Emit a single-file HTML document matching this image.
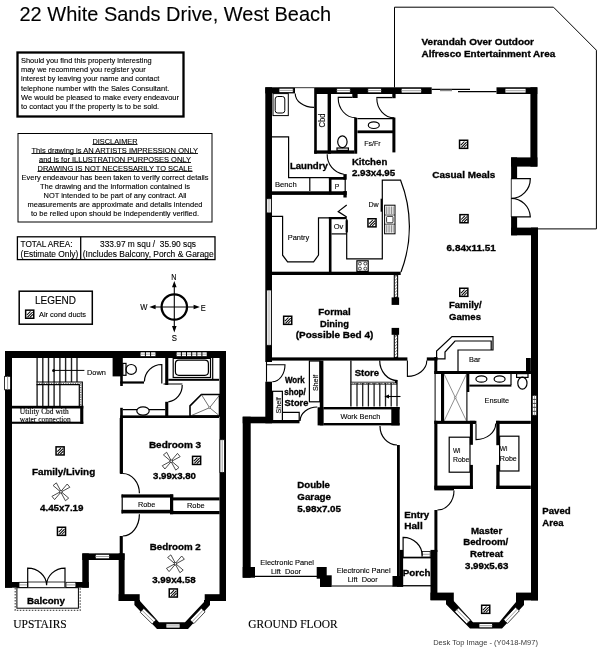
<!DOCTYPE html>
<html><head><meta charset="utf-8"><title>22 White Sands Drive, West Beach</title>
<style>
html,body{margin:0;padding:0;background:#fff}
svg{display:block;will-change:transform}
text{font-family:"Liberation Sans",Arial,sans-serif;fill:#000;stroke:#000;stroke-width:0.12px}
.b{font-weight:bold;stroke:#000;stroke-width:0.32px}
.sf{font-family:"Liberation Serif","Times New Roman",serif}
.w{fill:#000}
.l{fill:none}
.l2{fill:none}
.wn{fill:#fff}
.wh{fill:#fff}
</style></head><body>
<svg width="600" height="649" viewBox="0 0 600 649">
<defs>
<g id="duct"><rect x="0.75" y="0.75" width="8.1" height="8.1" fill="#fff" stroke="#000" stroke-width="1.5"/><path d="M2 5.6L5.6 2M2.6 7.8L7.8 2.6M5 8L8 5" stroke="#000" stroke-width="1.05" fill="none"/></g>
<g id="fan"><g fill="#fff" stroke="#222" stroke-width="0.75"><g transform="rotate(51)"><path d="M1.3 -0.5L9.8 -2.1V2.1L1.3 0.5Z"/></g><g transform="rotate(141)"><path d="M1.3 -0.5L9.8 -2.1V2.1L1.3 0.5Z"/></g><g transform="rotate(231)"><path d="M1.3 -0.5L9.8 -2.1V2.1L1.3 0.5Z"/></g><g transform="rotate(321)"><path d="M1.3 -0.5L9.8 -2.1V2.1L1.3 0.5Z"/></g></g><rect x="-1.1" y="-1.1" width="2.2" height="2.2" fill="#fff" stroke="#222" stroke-width="0.7"/></g>
</defs>
<rect width="600" height="649" fill="#fff"/>

<text x="19.5" y="20.7" font-size="20.5" textLength="311.7" lengthAdjust="spacingAndGlyphs" xml:space="preserve">22 White Sands Drive, West Beach</text>
<rect class="l2" x="17.5" y="52.5" width="166.0" height="64.0" stroke-width="2.3" stroke="#000"/>
<text x="21.0" y="63.3" font-size="8" textLength="130.7" lengthAdjust="spacingAndGlyphs" xml:space="preserve">Should you find this property interesting</text>
<text x="21.0" y="72.4" font-size="8" textLength="124.7" lengthAdjust="spacingAndGlyphs" xml:space="preserve">may we recommend you register your</text>
<text x="21.0" y="81.4" font-size="8" textLength="138.3" lengthAdjust="spacingAndGlyphs" xml:space="preserve">interest by leaving your name and contact</text>
<text x="21.0" y="90.5" font-size="8" textLength="148.3" lengthAdjust="spacingAndGlyphs" xml:space="preserve">telephone number with the Sales Consultant.</text>
<text x="21.0" y="99.6" font-size="8" textLength="158.0" lengthAdjust="spacingAndGlyphs" xml:space="preserve">We would be pleased to make every endeavour</text>
<text x="21.0" y="108.7" font-size="8" textLength="138.2" lengthAdjust="spacingAndGlyphs" xml:space="preserve">to contact you if the property is to be sold.</text>
<rect class="l" x="18.0" y="133.5" width="194.0" height="88.5" stroke="#000" stroke-width="1"/>
<text x="92.5" y="143.8" font-size="8" textLength="45.0" lengthAdjust="spacingAndGlyphs" xml:space="preserve">DISCLAIMER</text>
<path class="l" stroke="#000" stroke-width="0.9" d="M92.5 144.5H137.5"/>
<text x="31.5" y="152.8" font-size="8" textLength="166.5" lengthAdjust="spacingAndGlyphs" xml:space="preserve">This drawing is AN ARTISTS IMPRESSION ONLY</text>
<path class="l" stroke="#000" stroke-width="0.9" d="M31.5 153.5H198.0"/>
<text x="39.0" y="161.8" font-size="8" textLength="152.0" lengthAdjust="spacingAndGlyphs" xml:space="preserve">and is for ILLUSTRATION PURPOSES ONLY</text>
<path class="l" stroke="#000" stroke-width="0.9" d="M39.0 162.5H191.0"/>
<text x="37.5" y="170.8" font-size="8" textLength="155.0" lengthAdjust="spacingAndGlyphs" xml:space="preserve">DRAWING IS NOT NECESSARILY TO SCALE</text>
<path class="l" stroke="#000" stroke-width="0.9" d="M37.5 171.5H192.5"/>
<text x="21.5" y="179.8" font-size="8" textLength="187.0" lengthAdjust="spacingAndGlyphs" xml:space="preserve">Every endeavour has been taken to verify correct details</text>
<text x="40.0" y="188.8" font-size="8" textLength="150.0" lengthAdjust="spacingAndGlyphs" xml:space="preserve">The drawing and the information contained is</text>
<text x="43.5" y="197.8" font-size="8" textLength="143.0" lengthAdjust="spacingAndGlyphs" xml:space="preserve">NOT intended to be part of any contract. All</text>
<text x="27.5" y="206.8" font-size="8" textLength="175.0" lengthAdjust="spacingAndGlyphs" xml:space="preserve">measurements are approximate and details intended</text>
<text x="31.0" y="215.8" font-size="8" textLength="168.0" lengthAdjust="spacingAndGlyphs" xml:space="preserve">to be relied upon should be independently verified.</text>
<rect class="l" x="17.4" y="236.8" width="197.6" height="22.8" stroke-width="1.3" stroke="#000"/>
<path class="l" d="M80.7 236.8V259.6" stroke-width="1.3" stroke="#000"/>
<text x="20.6" y="247.0" font-size="8.4" textLength="51.9" lengthAdjust="spacingAndGlyphs" xml:space="preserve">TOTAL AREA:</text>
<text x="20.6" y="256.6" font-size="8.4" textLength="57.7" lengthAdjust="spacingAndGlyphs" xml:space="preserve">(Estimate Only)</text>
<text x="100.0" y="247.0" font-size="8.4" textLength="96.0" lengthAdjust="spacingAndGlyphs" xml:space="preserve">333.97 m squ /  35.90 sqs</text>
<text x="82.8" y="256.6" font-size="8.4" textLength="130.9" lengthAdjust="spacingAndGlyphs" xml:space="preserve">(Includes Balcony, Porch &amp; Garage</text>
<rect class="l" x="19.2" y="291.2" width="73.1" height="33.0" stroke-width="1.5" stroke="#000"/>
<text x="35.0" y="303.8" font-size="10.1" textLength="41.0" lengthAdjust="spacingAndGlyphs" xml:space="preserve">LEGEND</text>
<text x="39.0" y="316.8" font-size="8" textLength="47.0" lengthAdjust="spacingAndGlyphs" xml:space="preserve">Air cond ducts</text>
<use href="#duct" x="24.9" y="309.4"/>
<circle cx="174.3" cy="307" r="12.7" class="l" stroke="#000" stroke-width="2.3"/>
<path class="l" d="M174.3 284V330M152 307H197" stroke-width="1.1" stroke="#000"/>
<path class="w" d="M174.3 281L172 287.3H176.6ZM174.3 332.4L172 326.1H176.6ZM149.3 307L155.6 304.7V309.3ZM199.9 307L193.6 304.7V309.3Z"/>
<text x="171.2" y="280.0" font-size="8.3" textLength="5.2" lengthAdjust="spacingAndGlyphs" xml:space="preserve">N</text>
<text x="171.7" y="340.8" font-size="8.3" textLength="5.2" lengthAdjust="spacingAndGlyphs" xml:space="preserve">S</text>
<text x="140.2" y="309.7" font-size="8.3" textLength="7.2" lengthAdjust="spacingAndGlyphs" xml:space="preserve">W</text>
<text x="200.8" y="310.6" font-size="8.3" textLength="5.0" lengthAdjust="spacingAndGlyphs" xml:space="preserve">E</text>
<text x="13.3" y="627.7" font-size="11.5" textLength="53.4" lengthAdjust="spacingAndGlyphs" class="sf" xml:space="preserve">UPSTAIRS</text>
<text x="248.3" y="627.7" font-size="11.5" textLength="89.4" lengthAdjust="spacingAndGlyphs" class="sf" xml:space="preserve">GROUND FLOOR</text>
<text x="433.2" y="644.5" font-size="7.8" textLength="104.8" lengthAdjust="spacingAndGlyphs" style="fill:#3a3a3a;stroke:none" xml:space="preserve">Desk Top Image - (Y0418-M97)</text>
<rect class="w" x="5.0" y="351.0" width="221.0" height="7.0"/>
<rect class="w" x="5.0" y="351.0" width="7.0" height="236.7"/>
<rect class="w" x="219.5" y="351.0" width="6.5" height="250.0"/>
<rect class="w" x="5.0" y="582.0" width="14.0" height="5.7"/>
<rect class="w" x="75.8" y="582.0" width="13.0" height="5.7"/>
<rect class="w" x="82.3" y="553.4" width="6.5" height="34.3"/>
<rect class="w" x="82.3" y="553.4" width="42.3" height="6.6"/>
<rect class="w" x="118.7" y="553.4" width="5.9" height="47.6"/>
<rect class="w" x="118.7" y="594.2" width="21.0" height="6.8"/>
<rect class="w" x="204.7" y="594.2" width="20.8" height="6.8"/>
<polygon class="w" points="134.4,600 134.4,605 157,629 188,629 210,605 210,600 204,600 204,602 185,622.2 159,622.2 140,601 140,600"/>
<polygon class="wn" stroke="#000" stroke-width="0.7" points="140.2,612.2 152.2,623.9 155.8,620.1 143.8,608.4"/>
<path class="l" d="M142.0 610.3L154.0 622.0" stroke-width="0.8" stroke="#888"/>
<polygon class="wn" stroke="#000" stroke-width="0.7" points="193.9,623.6 205.1,611.8 201.3,608.2 190.1,620.0"/>
<path class="l" d="M192.0 621.8L203.2 610.0" stroke-width="0.8" stroke="#888"/>
<rect class="wn" x="166.0" y="623.8" width="14.0" height="4.2" stroke-width="0.8" stroke="#000"/>
<path class="l" d="M166.0 625.9H180.0" stroke-width="0.8" stroke="#888"/>
<rect class="wn" x="4.6" y="376.3" width="6.0" height="13.5" stroke-width="0.8" stroke="#000"/>
<path class="l" d="M7.6 376.3V389.8" stroke-width="0.8" stroke="#888"/>
<rect class="wn" x="219.9" y="439.7" width="4.6" height="32.7" stroke-width="0.8" stroke="#000"/>
<path class="l" d="M222.2 439.7V472.4" stroke-width="0.8" stroke="#888"/>
<rect class="wn" x="19.0" y="582.3" width="8.7" height="5.2" stroke-width="0.8" stroke="#000"/>
<path class="l" d="M19.0 584.9H27.7" stroke-width="0.8" stroke="#888"/>
<rect class="wn" x="66.0" y="582.3" width="9.8" height="5.2" stroke-width="0.8" stroke="#000"/>
<path class="l" d="M66.0 584.9H75.8" stroke-width="0.8" stroke="#888"/>
<rect class="wn" x="95.3" y="554.3" width="14.1" height="4.5" stroke-width="0.8" stroke="#000"/>
<path class="l" d="M95.3 556.5H109.4" stroke-width="0.8" stroke="#888"/>
<rect class="wn" x="140.2" y="352.0" width="15.6" height="4.4" stroke-width="0.6" stroke="#000"/>
<path class="l" d="M140.2 354.2H155.8" stroke-width="0.8" stroke="#999"/>
<path class="l" d="M145.4 352.0V356.4" stroke-width="1" stroke="#000"/>
<path class="l" d="M150.6 352.0V356.4" stroke-width="1" stroke="#000"/>
<rect class="wn" x="176.3" y="352.0" width="30.7" height="4.4" stroke-width="0.6" stroke="#000"/>
<path class="l" d="M176.3 354.2H207.0" stroke-width="0.8" stroke="#999"/>
<path class="l" d="M181.4 352.0V356.4" stroke-width="1" stroke="#000"/>
<path class="l" d="M186.5 352.0V356.4" stroke-width="1" stroke="#000"/>
<path class="l" d="M191.7 352.0V356.4" stroke-width="1" stroke="#000"/>
<path class="l" d="M196.8 352.0V356.4" stroke-width="1" stroke="#000"/>
<path class="l" d="M201.9 352.0V356.4" stroke-width="1" stroke="#000"/>
<path class="l" d="M37.1 358V406" stroke-width="1.4" stroke="#222"/>
<path class="l" d="M42.8 358V406" stroke-width="1.4" stroke="#222"/>
<path class="l" d="M48.5 358V406" stroke-width="1.4" stroke="#222"/>
<path class="l" d="M54.1 358V406" stroke-width="1.4" stroke="#222"/>
<path class="l" d="M59.9 358V406" stroke-width="1.4" stroke="#222"/>
<path class="l" d="M65.6 358V382" stroke-width="1.4" stroke="#222"/>
<path class="l" d="M71.5 358V382" stroke-width="1.4" stroke="#222"/>
<path class="l" d="M77 358V382" stroke-width="1.4" stroke="#222"/>
<path class="l" d="M36.5 382H82.3V406.5M36.5 384.6H79.3V406.5" stroke-width="1.2" stroke="#000"/>
<path class="l" d="M36.5 383.3H80.8V406.5" stroke-width="1.6" stroke-dasharray="1.2 1.2" stroke="#777"/>
<path class="l" d="M53.5 370.4H84.4" stroke="#000" stroke-width="1"/>
<circle cx="53.6" cy="370.4" r="1.5" fill="#000"/>
<text x="87.0" y="374.8" font-size="8" textLength="18.8" lengthAdjust="spacingAndGlyphs" xml:space="preserve">Down</text>
<rect class="w" x="11.5" y="405.8" width="71.8" height="2.7"/>
<rect class="w" x="11.5" y="421.7" width="71.8" height="2.1"/>
<rect class="w" x="80.2" y="405.8" width="3.1" height="18.0"/>
<text x="19.8" y="414.4" font-size="7.3" textLength="48.9" lengthAdjust="spacingAndGlyphs" class="sf" xml:space="preserve">Utility Cbd with</text>
<text x="19.8" y="421.6" font-size="7.3" textLength="51.0" lengthAdjust="spacingAndGlyphs" class="sf" xml:space="preserve">water connection</text>
<rect class="w" x="112.6" y="357.0" width="8.7" height="19.4"/>
<rect class="w" x="120.2" y="357.0" width="2.6" height="29.0"/>
<rect class="w" x="120.2" y="381.4" width="23.8" height="2.2"/>
<rect class="w" x="165.2" y="357.0" width="3.1" height="28.0"/>
<rect class="w" x="165.2" y="401.8" width="3.1" height="14.7"/>
<rect class="w" x="168.3" y="378.8" width="50.7" height="2.0"/>
<rect class="w" x="120.2" y="415.4" width="98.8" height="2.6"/>
<rect class="w" x="120.2" y="407.8" width="2.6" height="66.2"/>
<rect class="l" x="122.8" y="363.4" width="3.2" height="11.9" stroke-width="1.2" stroke="#000"/>
<ellipse cx="131.2" cy="369.4" rx="5.2" ry="4.9" class="l" stroke="#000" stroke-width="1.2"/>
<path class="l" d="M161.8 383.6V364.5A17.4 17.4 0 0 0 144.4 381.4" stroke-width="1.2" stroke="#000"/>
<path class="l" d="M163.5 384H182.4M182.2 385A16.5 16.5 0 0 1 168.3 401.8" stroke-width="1.2" stroke="#000"/>
<rect class="l" x="173.2" y="358.4" width="37.3" height="19.1" stroke-width="1.2" stroke="#000"/>
<rect class="l" x="175.4" y="360.2" width="33.0" height="15.1" stroke-width="1.2" rx="3.5" stroke="#000"/>
<path class="l" d="M212.7 358V379" stroke-width="1.2" stroke="#000"/>
<path class="l" d="M122.8 409.7H165.2" stroke-width="1.2" stroke="#000"/>
<ellipse cx="143" cy="411" rx="6.2" ry="4.1" class="wn" stroke="#000" stroke-width="1.2"/>
<path class="l" d="M190 405.9L201.4 394.5H219.5V416H190Z" stroke-width="1.6" stroke="#000"/>
<path class="l" d="M209.6 407.7L201.4 394.5M209.6 407.7L219.5 395.2M209.6 407.7L218.5 415M209.6 407.7L191.2 415.6" stroke-width="0.7" stroke="#333"/>
<circle cx="209.6" cy="407.7" r="0.9" fill="#fff" stroke="#333" stroke-width="0.5"/>
<rect class="w" x="119.7" y="418.0" width="3.1" height="55.5"/>
<rect class="w" x="119.7" y="536.0" width="3.1" height="18.0"/>
<rect class="w" x="121.5" y="494.4" width="51.7" height="3.2"/>
<rect class="w" x="170.0" y="497.4" width="49.6" height="3.0"/>
<rect class="w" x="121.5" y="509.8" width="51.7" height="3.6"/>
<rect class="w" x="170.0" y="511.0" width="49.6" height="3.2"/>
<rect class="w" x="170.0" y="494.4" width="3.2" height="19.8"/>
<path class="l" d="M122.2 494.4V513.4" stroke-width="1.2" stroke="#000"/>
<text x="137.9" y="506.6" font-size="7.8" textLength="17.4" lengthAdjust="spacingAndGlyphs" xml:space="preserve">Robe</text>
<text x="186.9" y="508.1" font-size="7.8" textLength="17.8" lengthAdjust="spacingAndGlyphs" xml:space="preserve">Robe</text>
<path class="l" d="M122.8 473.5A16.6 19.8 0 0 1 139.4 493.3" stroke-width="1.2" stroke="#000"/>
<path class="l" d="M139.4 514.3A16.6 21.7 0 0 1 122.8 536" stroke-width="1.2" stroke="#000"/>
<path class="l" d="M27.7 587V568.2A18.9 17 0 0 1 46.6 585.2A18.4 17 0 0 1 65 568.2V587" stroke-width="1.2" stroke="#000"/>
<path class="l" d="M27.7 582H65" stroke-width="0.8" stroke="#000"/>
<rect class="l" x="16.9" y="587.7" width="61.5" height="20.5" stroke-width="1" stroke="#000"/>
<path class="l" d="M15.2 588V610.4H80.2V588" stroke-width="1.2" stroke-dasharray="1.5 1.5" stroke="#555"/>
<text x="27.0" y="604.4" font-size="9.5" textLength="38.0" lengthAdjust="spacingAndGlyphs" class="b" xml:space="preserve">Balcony</text>
<text x="32.0" y="474.5" font-size="9.5" textLength="63.2" lengthAdjust="spacingAndGlyphs" class="b" xml:space="preserve">Family/Living</text>
<text x="40.0" y="510.6" font-size="9.5" textLength="43.5" lengthAdjust="spacingAndGlyphs" class="b" xml:space="preserve">4.45x7.19</text>
<use href="#fan" x="60.9" y="491.8"/>
<use href="#duct" x="55.3" y="446.1"/>
<use href="#duct" x="56.7" y="526.5"/>
<text x="148.9" y="447.6" font-size="9.5" textLength="52.3" lengthAdjust="spacingAndGlyphs" class="b" xml:space="preserve">Bedroom 3</text>
<text x="153.0" y="478.8" font-size="9.5" textLength="43.0" lengthAdjust="spacingAndGlyphs" class="b" xml:space="preserve">3.99x3.80</text>
<use href="#fan" x="171.2" y="461.2"/>
<use href="#duct" x="191.8" y="455.6"/>
<text x="149.8" y="549.5" font-size="9.5" textLength="51.0" lengthAdjust="spacingAndGlyphs" class="b" xml:space="preserve">Bedroom 2</text>
<text x="152.2" y="583.1" font-size="9.5" textLength="43.4" lengthAdjust="spacingAndGlyphs" class="b" xml:space="preserve">3.99x4.58</text>
<use href="#fan" x="175.4" y="563.8"/>
<use href="#duct" x="168.5" y="588.2"/>
<path class="l" d="M394.5 87.5V7.2H553.5L596.4 50.2V228.9H537.5" stroke-width="1" stroke="#000"/>
<text x="421.5" y="45.0" font-size="9.5" textLength="112.5" lengthAdjust="spacingAndGlyphs" class="b" xml:space="preserve">Verandah Over Outdoor</text>
<text x="421.5" y="56.9" font-size="9.5" textLength="133.7" lengthAdjust="spacingAndGlyphs" class="b" xml:space="preserve">Alfresco Entertainment Area</text>
<rect class="w" x="265.3" y="87.3" width="6.7" height="274.7"/>
<rect class="w" x="265.3" y="381.7" width="6.7" height="41.6"/>
<rect class="w" x="265.3" y="87.3" width="29.7" height="6.1"/>
<rect class="w" x="314.2" y="87.3" width="223.1" height="6.7"/>
<rect class="w" x="530.4" y="87.3" width="7.0" height="79.3"/>
<rect class="w" x="511.1" y="157.4" width="26.3" height="9.2"/>
<rect class="w" x="511.1" y="157.4" width="6.0" height="21.1"/>
<rect class="w" x="511.1" y="217.0" width="6.0" height="18.3"/>
<rect class="w" x="511.1" y="227.6" width="26.9" height="7.7"/>
<rect class="w" x="531.0" y="227.6" width="7.0" height="372.8"/>
<rect class="wn" x="279.0" y="88.2" width="14.2" height="4.4" stroke-width="0.8" stroke="#000"/>
<path class="l" d="M279.0 90.4H293.2" stroke-width="0.8" stroke="#888"/>
<rect class="wn" x="336.7" y="88.3" width="13.6" height="4.5" stroke-width="0.8" stroke="#000"/>
<path class="l" d="M336.7 90.5H350.3" stroke-width="0.8" stroke="#888"/>
<rect class="wn" x="367.8" y="88.3" width="13.6" height="4.5" stroke-width="0.8" stroke="#000"/>
<path class="l" d="M367.8 90.5H381.4" stroke-width="0.8" stroke="#888"/>
<rect class="wn" x="401.2" y="88.3" width="20.4" height="4.7" stroke-width="0.8" stroke="#000"/>
<path class="l" d="M401.2 90.7H421.6" stroke-width="0.8" stroke="#888"/>
<rect class="wn" x="505.0" y="88.3" width="21.0" height="4.7" stroke-width="0.8" stroke="#000"/>
<path class="l" d="M505.0 90.7H526.0" stroke-width="0.8" stroke="#888"/>
<rect class="wh" x="431.7" y="87.0" width="64.8" height="7.3"/>
<path class="l" d="M431.7 89.3H470M458 91.6H496.5" stroke-width="1.2" stroke="#000"/>
<path class="l" d="M440 90.4H452" stroke-width="1.6" stroke="#888"/>
<path class="l" d="M511.3 178.5V217" stroke-width="0.8" stroke="#000"/>
<path class="l" d="M511.1 178.7H530.3A19.2 19.6 0 0 1 511.1 198.3A19.2 19.6 0 0 1 530.3 216.8H511.1" stroke-width="1.2" stroke="#000"/>
<path class="l" d="M295.2 93.4A18.8 14 0 0 0 314 107.4" stroke-width="1.1" stroke="#000"/>
<path class="l" d="M295 87.7H314.3" stroke-width="0.8" stroke="#000"/>
<rect class="l" x="273.0" y="93.6" width="15.3" height="22.0" stroke-width="1" stroke="#000"/>
<rect class="l" x="275.2" y="96.5" width="9.6" height="16.5" stroke-width="1" rx="2.5" stroke="#000"/>
<path class="l" d="M272 136.8H288.6V177.6H329.3M309.8 177.6V191" stroke-width="1.2" stroke="#000"/>
<text x="275.0" y="186.8" font-size="7.8" textLength="21.7" lengthAdjust="spacingAndGlyphs" xml:space="preserve">Bench</text>
<text x="289.9" y="169.2" font-size="9.5" textLength="37.9" lengthAdjust="spacingAndGlyphs" class="b" xml:space="preserve">Laundry</text>
<rect class="w" x="272.0" y="191.3" width="74.7" height="3.6"/>
<rect class="w" x="328.9" y="177.0" width="2.6" height="17.3"/>
<rect class="w" x="328.9" y="177.0" width="16.7" height="2.7"/>
<path class="l" d="M345.2 179V191" stroke-width="1.2" stroke="#000"/>
<text x="334.7" y="188.6" font-size="7.8" textLength="4.5" lengthAdjust="spacingAndGlyphs" xml:space="preserve">P</text>
<rect class="w" x="343.4" y="174.1" width="3.3" height="5.6"/>
<rect class="w" x="343.4" y="191.0" width="3.3" height="6.5"/>
<rect class="w" x="314.2" y="94.0" width="2.6" height="59.7"/>
<rect class="w" x="327.6" y="94.0" width="3.4" height="59.7"/>
<rect class="w" x="314.2" y="150.4" width="40.0" height="3.3"/>
<text transform="translate(322.4 120.5) rotate(-90)" x="-7.0" y="3.0" font-size="8.2" textLength="14.0" lengthAdjust="spacingAndGlyphs">Cbd</text>
<path class="l" d="M327.2 154.2A19.7 19.7 0 0 0 343.8 174.2" stroke-width="1.1" stroke="#000"/>
<rect class="w" x="352.3" y="93.7" width="5.3" height="4.3"/>
<rect class="w" x="392.3" y="93.7" width="3.3" height="4.5"/>
<rect class="w" x="337.7" y="96.7" width="14.6" height="1.3"/>
<rect class="w" x="376.3" y="96.9" width="16.0" height="1.3"/>
<rect class="w" x="354.2" y="117.6" width="3.0" height="36.1"/>
<rect class="w" x="392.4" y="117.6" width="3.0" height="34.8"/>
<path class="l" d="M338.2 98A17.5 19.8 0 0 0 355.7 117.8" stroke-width="1.1" stroke="#000"/>
<path class="l" d="M376.8 98.2A17.5 19.6 0 0 0 394.3 117.8" stroke-width="1.1" stroke="#000"/>
<ellipse cx="342.4" cy="141.8" rx="4.7" ry="5.9" class="l" stroke="#000" stroke-width="1.2"/>
<rect class="l" x="337.0" y="148.0" width="11.4" height="2.4" stroke-width="1.2" stroke="#000"/>
<path class="l" d="M357.4 118.6H393.2" stroke-width="1.4" stroke="#000"/>
<rect class="w" x="357.4" y="130.4" width="35.8" height="2.8"/>
<ellipse cx="373.8" cy="125.2" rx="5.5" ry="3.3" class="l" stroke="#000" stroke-width="1.2"/>
<text x="364.2" y="146.3" font-size="7.8" textLength="16.5" lengthAdjust="spacingAndGlyphs" xml:space="preserve">Fs/Fr</text>
<text x="351.9" y="164.6" font-size="9.5" textLength="35.4" lengthAdjust="spacingAndGlyphs" class="b" xml:space="preserve">Kitchen</text>
<text x="351.9" y="176.3" font-size="9.5" textLength="43.3" lengthAdjust="spacingAndGlyphs" class="b" xml:space="preserve">2.93x4.95</text>
<text x="432.3" y="177.9" font-size="9.5" textLength="63.0" lengthAdjust="spacingAndGlyphs" class="b" xml:space="preserve">Casual Meals</text>
<rect class="wn" x="266.7" y="198.7" width="4.6" height="14.2" stroke-width="0.8" stroke="#000"/>
<path class="l" d="M269.0 198.7V212.9" stroke-width="0.8" stroke="#888"/>
<path class="l" d="M272 216.4H282.6V255.2L287.6 261.8H313.6L318.5 255V217.9H329.5" stroke-width="1.2" stroke="#000"/>
<text x="287.7" y="240.3" font-size="7.8" textLength="21.5" lengthAdjust="spacingAndGlyphs" xml:space="preserve">Pantry</text>
<rect class="w" x="328.9" y="217.0" width="2.6" height="55.0"/>
<rect class="w" x="328.9" y="217.0" width="17.8" height="2.2"/>
<rect class="w" x="272.0" y="271.7" width="128.7" height="3.3"/>
<path class="l" d="M331.5 233.9H346.7" stroke-width="1.2" stroke="#000"/>
<rect class="w" x="345.6" y="220.2" width="2.2" height="12.2" fill="#555"/>
<text x="333.7" y="229.0" font-size="7.8" textLength="9.7" lengthAdjust="spacingAndGlyphs" xml:space="preserve">Ov</text>
<path class="l" d="M346.7 205L338.2 211.6L346.7 217" stroke-width="1.2" stroke="#000"/>
<path class="l" d="M346.7 219V258.9H382.3V180.2H400.6A127 127 0 0 1 401 272" stroke-width="1.2" stroke="#000"/>
<text x="368.4" y="207.3" font-size="7.8" textLength="10.2" lengthAdjust="spacingAndGlyphs" xml:space="preserve">Dw</text>
<rect class="w" x="380.6" y="198.7" width="1.6" height="13.0" fill="#888"/>
<rect class="l" x="384.6" y="205.2" width="10.4" height="28.6" stroke-width="1" stroke="#000"/>
<rect class="l" x="386.6" y="216.4" width="6.4" height="6.4" stroke-width="0.8" rx="1" stroke="#000"/>
<path class="l" d="M384.6 215H395M384.6 224.2H395" stroke-width="0.7" stroke="#000"/>
<path class="l" d="M386.4 206.5V214M386.4 225.2V232.6M388.1 206.5V214M388.1 225.2V232.6M389.8 206.5V214M389.8 225.2V232.6M391.5 206.5V214M391.5 225.2V232.6M393.2 206.5V214M393.2 225.2V232.6" stroke-width="0.6" stroke="#444"/>
<rect class="l" x="356.9" y="260.8" width="11.3" height="10.6" stroke-width="1.2" stroke="#000"/>
<circle cx="359.9" cy="263.6" r="1.5" class="l" stroke="#000" stroke-width="0.7"/>
<circle cx="365.3" cy="263.6" r="1.5" class="l" stroke="#000" stroke-width="0.7"/>
<circle cx="359.9" cy="268.6" r="1.5" class="l" stroke="#000" stroke-width="0.7"/>
<circle cx="365.3" cy="268.6" r="1.5" class="l" stroke="#000" stroke-width="0.7"/>
<use href="#duct" x="367.2" y="218.0"/>
<use href="#duct" x="459.2" y="213.9"/>
<use href="#duct" x="459.0" y="287.5"/>
<use href="#duct" x="458.8" y="139.5"/>
<text x="446.6" y="250.9" font-size="9.5" textLength="49.2" lengthAdjust="spacingAndGlyphs" class="b" xml:space="preserve">6.84x11.51</text>
<text x="449.0" y="308.3" font-size="9.5" textLength="32.7" lengthAdjust="spacingAndGlyphs" class="b" xml:space="preserve">Family/</text>
<text x="449.0" y="320.2" font-size="9.5" textLength="32.0" lengthAdjust="spacingAndGlyphs" class="b" xml:space="preserve">Games</text>
<rect class="wn" x="266.7" y="290.0" width="4.6" height="55.3" stroke-width="0.8" stroke="#000"/>
<path class="l" d="M269.0 290.0V345.3" stroke-width="0.8" stroke="#888"/>
<text x="318.3" y="315.0" font-size="9.5" textLength="32.4" lengthAdjust="spacingAndGlyphs" class="b" xml:space="preserve">Formal</text>
<text x="320.0" y="326.6" font-size="9.5" textLength="29.0" lengthAdjust="spacingAndGlyphs" class="b" xml:space="preserve">Dining</text>
<text x="295.7" y="337.7" font-size="9.5" textLength="77.7" lengthAdjust="spacingAndGlyphs" class="b" xml:space="preserve">(Possible Bed 4)</text>
<use href="#duct" x="282.9" y="315.5"/>
<rect class="l" x="394.3" y="275.0" width="3.3" height="22.4" stroke-width="1.1" stroke="#000"/>
<path class="l" d="M394.3 278.0L397.6 275.0M394.3 281.0L397.6 278.0M394.3 284.0L397.6 281.0M394.3 287.0L397.6 284.0M394.3 290.0L397.6 287.0M394.3 293.0L397.6 290.0M394.3 296.0L397.6 293.0M394.3 299.0L397.6 296.0" stroke-width="0.7" stroke="#333"/>
<rect class="l" x="394.3" y="334.8" width="3.3" height="22.7" stroke-width="1.1" stroke="#000"/>
<path class="l" d="M394.3 337.8L397.6 334.8M394.3 340.8L397.6 337.8M394.3 343.8L397.6 340.8M394.3 346.8L397.6 343.8M394.3 349.8L397.6 346.8M394.3 352.8L397.6 349.8M394.3 355.8L397.6 352.8M394.3 358.8L397.6 355.8" stroke-width="0.7" stroke="#333"/>
<rect class="w" x="391.6" y="297.4" width="7.5" height="7.5"/>
<rect class="w" x="391.6" y="327.9" width="7.5" height="6.9"/>
<rect class="w" x="272.0" y="357.4" width="135.4" height="3.2"/>
<rect class="w" x="426.8" y="357.4" width="10.6" height="3.2"/>
<path class="l" d="M407.4 360.6V376.4A19.4 15.8 0 0 0 426.8 360.6" stroke-width="1.1" stroke="#000"/>
<path class="l" d="M266.5 361.7V381.7M266.5 364.7H285A12.7 17 0 0 1 272.3 381.7" stroke-width="1.1" stroke="#000"/>
<rect class="l" x="272.6" y="391.3" width="9.8" height="29.7" stroke-width="1.2" stroke="#000"/>
<rect class="l" x="309.4" y="361.0" width="10.4" height="40.8" stroke-width="1.2" stroke="#000"/>
<text transform="translate(277.8 405.4) rotate(-90)" x="-8.1" y="2.7" font-size="7.6" textLength="16.2" lengthAdjust="spacingAndGlyphs">Shelf</text>
<text transform="translate(315.4 383.0) rotate(-90)" x="-8.1" y="2.7" font-size="7.6" textLength="16.2" lengthAdjust="spacingAndGlyphs">Shelf</text>
<text x="285.0" y="383.4" font-size="8.2" textLength="19.7" lengthAdjust="spacingAndGlyphs" class="b" xml:space="preserve">Work</text>
<text x="284.3" y="395.0" font-size="8.2" textLength="21.5" lengthAdjust="spacingAndGlyphs" class="b" xml:space="preserve">shop/</text>
<text x="284.6" y="406.4" font-size="9.5" textLength="23.8" lengthAdjust="spacingAndGlyphs" class="b" xml:space="preserve">Store</text>
<path class="l" d="M282.4 412.4H299.2V421" stroke-width="1.2" stroke="#000"/>
<path class="l" d="M300 421A17.3 14.5 0 0 1 317.3 407" stroke-width="1.2" stroke="#000"/>
<rect class="w" x="319.8" y="360.6" width="3.6" height="64.8"/>
<rect class="w" x="317.6" y="407.3" width="5.8" height="18.1"/>
<path class="l" d="M350.9 360.6V406.5" stroke-width="1.3" stroke="#000"/>
<rect class="w" x="323.4" y="407.0" width="76.2" height="2.4"/>
<rect class="w" x="323.4" y="423.0" width="76.2" height="2.4"/>
<rect class="w" x="391.3" y="407.0" width="8.3" height="18.4"/>
<text x="340.4" y="418.8" font-size="7.8" textLength="40.0" lengthAdjust="spacingAndGlyphs" xml:space="preserve">Work Bench</text>
<path class="l" d="M350.9 382.2H397M350.9 384.2H397" stroke-width="0.8" stroke="#000"/>
<path class="l" d="M351 383.2H397" stroke-width="1.4" stroke="#666" stroke-dasharray="1.5 1.5"/>
<rect class="w" x="395.0" y="381.0" width="2.6" height="2.2"/>
<path class="l" d="M357.0 383V406.5" stroke-width="1.3" stroke="#222"/>
<path class="l" d="M362.7 383V406.5" stroke-width="1.3" stroke="#222"/>
<path class="l" d="M368.4 383V406.5" stroke-width="1.3" stroke="#222"/>
<path class="l" d="M374.1 383V406.5" stroke-width="1.3" stroke="#222"/>
<path class="l" d="M379.8 383V406.5" stroke-width="1.3" stroke="#222"/>
<path class="l" d="M385.5 383V406.5" stroke-width="1.3" stroke="#222"/>
<path class="l" d="M391.2 383V406.5" stroke-width="1.3" stroke="#222"/>
<path class="l" d="M386 396.5H400.5" stroke-width="1.1" stroke="#000"/>
<path class="w" d="M384.4 396.5L389 394.6V398.4Z"/>
<text x="354.7" y="376.1" font-size="9.5" textLength="24.5" lengthAdjust="spacingAndGlyphs" class="b" xml:space="preserve">Store</text>
<path class="l" d="M379.7 360.6A18 20 0 0 0 397.7 380.6" stroke-width="1.2" stroke="#000"/>
<path class="l" d="M397 383V406.5" stroke-width="1.2" stroke="#000"/>
<rect class="w" x="242.7" y="416.7" width="29.3" height="6.6"/>
<rect class="w" x="242.7" y="416.7" width="8.0" height="161.0"/>
<rect class="w" x="242.7" y="567.0" width="12.3" height="10.7"/>
<rect class="w" x="272.0" y="420.0" width="27.5" height="3.3"/>
<path class="l" d="M255 576.3H317" stroke-width="1.2" stroke="#000"/>
<rect class="w" x="316.7" y="567.0" width="10.0" height="11.7"/>
<rect class="w" x="320.0" y="575.3" width="11.7" height="11.7"/>
<path class="l" d="M331.7 586H393" stroke-width="1.2" stroke="#000"/>
<rect class="w" x="392.5" y="576.0" width="10.6" height="10.8"/>
<rect class="w" x="397.0" y="445.0" width="2.8" height="141.8"/>
<path class="l" d="M380 426A17 19 0 0 0 397 445" stroke-width="1.2" stroke="#000"/>
<text x="297.3" y="487.7" font-size="9.5" textLength="32.7" lengthAdjust="spacingAndGlyphs" class="b" xml:space="preserve">Double</text>
<text x="297.3" y="499.8" font-size="9.5" textLength="33.7" lengthAdjust="spacingAndGlyphs" class="b" xml:space="preserve">Garage</text>
<text x="297.3" y="512.0" font-size="9.5" textLength="43.7" lengthAdjust="spacingAndGlyphs" class="b" xml:space="preserve">5.98x7.05</text>
<text x="260.3" y="564.5" font-size="7.8" textLength="53.7" lengthAdjust="spacingAndGlyphs" xml:space="preserve">Electronic Panel</text>
<text x="271.0" y="573.8" font-size="7.8" textLength="30.0" lengthAdjust="spacingAndGlyphs" xml:space="preserve">Lift  Door</text>
<text x="336.7" y="572.8" font-size="7.8" textLength="54.0" lengthAdjust="spacingAndGlyphs" xml:space="preserve">Electronic Panel</text>
<text x="347.7" y="582.2" font-size="7.8" textLength="30.0" lengthAdjust="spacingAndGlyphs" xml:space="preserve">Lift  Door</text>
<path class="l" d="M436.6 358V351L452 336.6H493V350H458V371" stroke-width="1.2" stroke="#000"/>
<path class="l" d="M436.6 358.8H445V352L455 341H491.2V350" stroke-width="1.2" stroke="#000"/>
<text x="469.0" y="362.2" font-size="7.8" textLength="11.5" lengthAdjust="spacingAndGlyphs" xml:space="preserve">Bar</text>
<rect class="w" x="434.3" y="357.0" width="3.0" height="17.0"/>
<path class="l" d="M435.1 374V421" stroke-width="1" stroke="#000"/>
<rect class="w" x="434.3" y="371.0" width="96.5" height="3.0"/>
<rect class="w" x="526.0" y="358.0" width="4.8" height="16.0"/>
<rect class="w" x="441.0" y="374.0" width="3.1" height="47.0"/>
<rect class="w" x="466.3" y="374.0" width="3.0" height="18.0"/>
<path class="l" d="M466.9 392V421" stroke-width="1.1" stroke="#000"/>
<path class="l" d="M444.1 374L466.5 421M466.5 374L444.1 421" stroke-width="0.6" stroke="#444"/>
<circle cx="455.3" cy="397.5" r="0.9" fill="#fff" stroke="#444" stroke-width="0.5"/>
<rect class="w" x="434.3" y="420.8" width="40.7" height="3.1"/>
<rect class="w" x="496.0" y="420.8" width="34.8" height="3.1"/>
<path class="l" d="M511 374V385" stroke-width="1.2" stroke="#000"/>
<rect class="w" x="469.3" y="384.6" width="42.1" height="2.0"/>
<ellipse cx="481.4" cy="379" rx="5.5" ry="3.2" class="l" stroke="#000" stroke-width="1.2"/>
<ellipse cx="499.6" cy="379" rx="5.5" ry="3.2" class="l" stroke="#000" stroke-width="1.2"/>
<rect class="l" x="516.6" y="373.6" width="11.4" height="3.8" stroke-width="1.2" stroke="#000"/>
<ellipse cx="522.4" cy="383.2" rx="4.6" ry="6" class="l" stroke="#000" stroke-width="1.2"/>
<text x="484.6" y="403.4" font-size="7.8" textLength="24.4" lengthAdjust="spacingAndGlyphs" xml:space="preserve">Ensuite</text>
<rect class="wn" x="532.3" y="395.5" width="4.3" height="19.7" stroke-width="0.6" stroke="#000"/>
<path class="l" d="M534.5 395.5V415.2" stroke-width="0.8" stroke="#999"/>
<path class="l" d="M532.3 399.4H536.6" stroke-width="0.9" stroke="#333"/>
<path class="l" d="M532.3 403.4H536.6" stroke-width="0.9" stroke="#333"/>
<path class="l" d="M532.3 407.3H536.6" stroke-width="0.9" stroke="#333"/>
<path class="l" d="M532.3 411.3H536.6" stroke-width="0.9" stroke="#333"/>
<rect class="w" x="434.3" y="420.8" width="3.1" height="68.2"/>
<rect class="w" x="434.3" y="485.6" width="38.6" height="3.4"/>
<rect class="w" x="469.9" y="420.8" width="3.0" height="24.0"/>
<rect class="w" x="469.9" y="464.9" width="3.0" height="24.1"/>
<rect class="w" x="472.9" y="420.8" width="3.5" height="3.1"/>
<rect class="l" x="449.2" y="437.2" width="20.8" height="35.0" stroke-width="1.2" stroke="#000"/>
<text x="453.0" y="453.0" font-size="7.8" textLength="7.5" lengthAdjust="spacingAndGlyphs" xml:space="preserve">Wi</text>
<text x="453.0" y="461.8" font-size="7.8" textLength="16.4" lengthAdjust="spacingAndGlyphs" xml:space="preserve">Robe</text>
<rect class="w" x="496.3" y="420.8" width="3.3" height="24.4"/>
<rect class="w" x="496.3" y="464.9" width="3.3" height="24.1"/>
<rect class="w" x="496.3" y="485.6" width="34.5" height="3.4"/>
<rect class="l" x="499.6" y="436.2" width="19.3" height="34.8" stroke-width="1.2" stroke="#000"/>
<text x="499.8" y="451.3" font-size="7.8" textLength="7.6" lengthAdjust="spacingAndGlyphs" xml:space="preserve">Wi</text>
<text x="499.8" y="460.8" font-size="7.8" textLength="17.0" lengthAdjust="spacingAndGlyphs" xml:space="preserve">Robe</text>
<path class="l" d="M476 423.9V439.6A19.7 16 0 0 0 495.7 423.6" stroke-width="1.1" stroke="#000"/>
<rect class="w" x="434.3" y="489.0" width="19.7" height="1.4"/>
<path class="l" d="M454 490.4A16.5 19.6 0 0 1 437.4 510" stroke-width="1.1" stroke="#000"/>
<rect class="w" x="434.4" y="510.0" width="3.0" height="42.0"/>
<rect class="w" x="430.5" y="549.9" width="6.9" height="50.1"/>
<rect class="w" x="430.5" y="592.6" width="23.3" height="7.8"/>
<rect class="w" x="516.0" y="592.6" width="22.0" height="7.8"/>
<polygon class="w" points="446,600 446,604.2 470,628.6 502,628.6 524,605 524,600 516,600 516,602 499.2,622.2 473,622.2 453.8,601 453.8,600"/>
<polygon class="wn" stroke="#000" stroke-width="0.7" points="454.7,611.6 466.7,623.8 470.5,620.2 458.5,608.0"/>
<path class="l" d="M456.6 609.8L468.6 622.0" stroke-width="0.8" stroke="#888"/>
<polygon class="wn" stroke="#000" stroke-width="0.7" points="507.5,623.4 519.3,610.8 515.5,607.2 503.7,619.8"/>
<path class="l" d="M505.6 621.6L517.4 609.0" stroke-width="0.8" stroke="#888"/>
<rect class="wn" x="479.0" y="623.6" width="13.4" height="4.2" stroke-width="0.8" stroke="#000"/>
<path class="l" d="M479.0 625.7H492.4" stroke-width="0.8" stroke="#888"/>
<use href="#duct" x="480.9" y="604.5"/>
<text x="471.0" y="533.7" font-size="9.5" textLength="31.3" lengthAdjust="spacingAndGlyphs" class="b" xml:space="preserve">Master</text>
<text x="463.3" y="545.3" font-size="9.5" textLength="45.0" lengthAdjust="spacingAndGlyphs" class="b" xml:space="preserve">Bedroom/</text>
<text x="470.0" y="557.0" font-size="9.5" textLength="33.3" lengthAdjust="spacingAndGlyphs" class="b" xml:space="preserve">Retreat</text>
<text x="465.0" y="569.3" font-size="9.5" textLength="43.3" lengthAdjust="spacingAndGlyphs" class="b" xml:space="preserve">3.99x5.63</text>
<text x="542.3" y="514.3" font-size="9.5" textLength="28.4" lengthAdjust="spacingAndGlyphs" class="b" xml:space="preserve">Paved</text>
<text x="542.3" y="526.0" font-size="9.5" textLength="21.2" lengthAdjust="spacingAndGlyphs" class="b" xml:space="preserve">Area</text>
<text x="404.3" y="518.0" font-size="9.5" textLength="25.0" lengthAdjust="spacingAndGlyphs" class="b" xml:space="preserve">Entry</text>
<text x="404.3" y="528.8" font-size="9.5" textLength="18.4" lengthAdjust="spacingAndGlyphs" class="b" xml:space="preserve">Hall</text>
<text x="402.8" y="576.0" font-size="9.5" textLength="27.7" lengthAdjust="spacingAndGlyphs" class="b" xml:space="preserve">Porch</text>
<rect class="w" x="399.7" y="549.9" width="3.4" height="36.9"/>
<rect class="w" x="403.0" y="556.7" width="28.0" height="1.7"/>
<rect class="w" x="403.0" y="585.1" width="28.0" height="1.3"/>
<rect class="wn" x="422.0" y="551.6" width="8.2" height="5.4" stroke-width="0.8" stroke="#000"/>
<path class="l" d="M422.0 554.3H430.2" stroke-width="0.8" stroke="#888"/>
<path class="l" d="M403.1 557V537.3A19.2 18.5 0 0 1 422.3 555.8" stroke-width="1.2" stroke="#000"/>
</svg></body></html>
